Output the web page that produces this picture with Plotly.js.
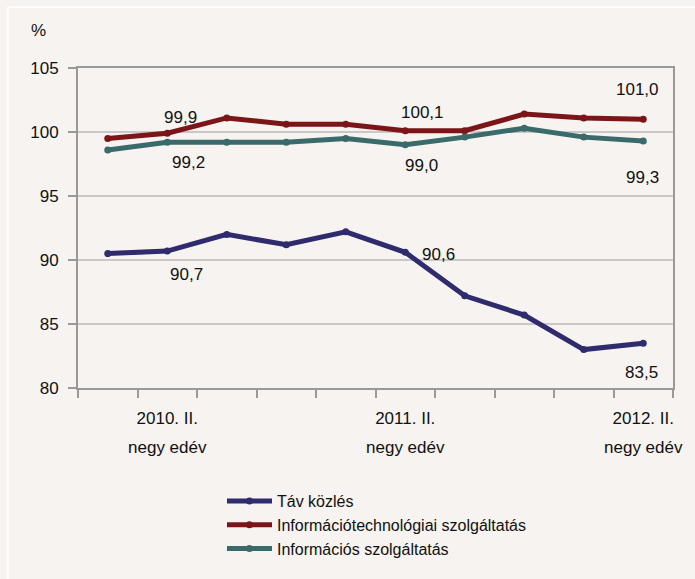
<!DOCTYPE html>
<html><head><meta charset="utf-8">
<script src="https://cdn.plot.ly/plotly-3.0.1.min.js"></script>
<style>html,body{margin:0;padding:0;background:#f6f3f0}</style>
</head><body><div id="chart" style="width:695px;height:579px"></div>
<script>
const quarters = ['2010. I.','2010. II.','2010. III.','2010. IV.','2011. I.','2011. II.','2011. III.','2011. IV.','2012. I.','2012. II.'];
const tickQuarters = ['2010. II.','2011. II.','2012. II.'];
const tickSuffix = 'negy edév';
const tavkozles = [90.5, 90.7, 92.0, 91.2, 92.2, 90.6, 87.2, 85.7, 83.0, 83.5];
const itSzolg   = [99.5, 99.9, 101.1, 100.6, 100.6, 100.1, 100.1, 101.4, 101.1, 101.0];
const infoSzolg = [98.6, 99.2, 99.2, 99.2, 99.5, 99.0, 99.6, 100.3, 99.6, 99.3];
const seriesNames = ['Táv közlés','Információtechnológiai szolgáltatás','Információs szolgáltatás'];
const labeledIdx = [1, 5, 9];

const FONT = 'Liberation Sans, Arial, sans-serif';
const FS = 17;
const colors = ['#2f2b6c', '#7b1518', '#3a6a6a'];
const xs = quarters.map((q, i) => i + 1);
const tickPos = tickQuarters.map(t => quarters.indexOf(t) + 1);
const bounds = [0].concat(xs).map(v => v + 0.5);

const series = [tavkozles, itSzolg, infoSzolg];
const traces = series.map((s, k) => ({
  x: xs, y: s, name: seriesNames[k], type: 'scatter', mode: 'lines+markers',
  line: {color: colors[k], width: 5}, marker: {color: colors[k], size: 7},
  xaxis: 'x', yaxis: 'y'
}));
traces.push({x: [tickPos[0]], y: [null], xaxis: 'x2', yaxis: 'y', showlegend: false, hoverinfo: 'skip', mode: 'markers'});
traces.push({x: [tickPos[0]], y: [null], xaxis: 'x3', yaxis: 'y', showlegend: false, hoverinfo: 'skip', mode: 'markers'});

const fmt = v => v.toFixed(1).replace('.', ',');
const offs = [
  [[19, -23], [33, -2], [-2, -29]],
  [[13, 16], [17, 18], [-6, 30]],
  [[21, -20], [16, -21], [-1, -37]]
];
const annotations = [];
series.forEach((s, k) => labeledIdx.forEach((i, j) => {
  annotations.push({x: xs[i], y: s[i], xref: 'x', yref: 'y', text: fmt(s[i]), showarrow: false,
    xshift: offs[k][j][0], yshift: offs[k][j][1], font: {family: FONT, size: FS, color: '#111'}});
}));
annotations.push({x: -0.067, y: 1.116, xref: 'paper', yref: 'paper', xanchor: 'center', yanchor: 'middle',
  text: '%', showarrow: false, font: {family: FONT, size: FS, color: '#111'}});

const layout = {
  width: 695, height: 579,
  paper_bgcolor: '#f6f3f0', plot_bgcolor: '#f6f3f0',
  margin: {l: 78, r: 22, t: 68, b: 191},
  font: {family: FONT, size: FS, color: '#111'},
  xaxis: {range: [0.5, xs.length + 0.5], tickvals: bounds, ticktext: bounds.map(() => ''),
    ticks: 'outside', ticklen: 8, tickwidth: 2, tickcolor: '#999', showgrid: false,
    showline: true, linecolor: '#999', linewidth: 2, mirror: true, zeroline: false, fixedrange: true},
  xaxis2: {overlaying: 'x', anchor: 'y', side: 'bottom', range: [0.5, xs.length + 0.5],
    tickvals: tickPos, ticktext: tickQuarters, ticks: '', showgrid: false, showline: false,
    zeroline: false, ticklabelstandoff: 18, tickfont: {family: FONT, size: FS, color: '#111'}},
  xaxis3: {overlaying: 'x', anchor: 'y', side: 'bottom', range: [0.5, xs.length + 0.5],
    tickvals: tickPos, ticktext: tickPos.map(() => tickSuffix), ticks: '', showgrid: false, showline: false,
    zeroline: false, ticklabelstandoff: 47, tickfont: {family: FONT, size: FS, color: '#111'}},
  yaxis: {range: [80, 105], dtick: 5, tick0: 80, ticks: 'outside', ticklen: 8, tickwidth: 2, tickcolor: '#999',
    showgrid: true, gridcolor: '#c8c8c8', gridwidth: 2, showline: true, linecolor: '#999', linewidth: 2,
    mirror: true, zeroline: false, tickfont: {family: FONT, size: FS, color: '#111'}, ticklabelstandoff: 6},
  legend: {orientation: 'v', x: 0.242, xanchor: 'left', y: -0.3, yanchor: 'top',
    bgcolor: 'rgba(0,0,0,0)', font: {family: FONT, size: 16, color: '#111'}, tracegroupgap: 0, itemwidth: 45},
  showlegend: true,
  annotations: annotations,
  shapes: [
    {type: 'line', xref: 'paper', yref: 'paper', x0: -0.118, x1: 1.04, y0: 1.19, y1: 1.19, line: {color: '#ffffff', width: 2}},
    {type: 'line', xref: 'paper', yref: 'paper', x0: -0.118, x1: -0.118, y0: 1.19, y1: -0.6, line: {color: '#ffffff', width: 2}}
  ]
};
Plotly.newPlot('chart', traces, layout, {displayModeBar: false, staticPlot: true});
</script></body></html>
